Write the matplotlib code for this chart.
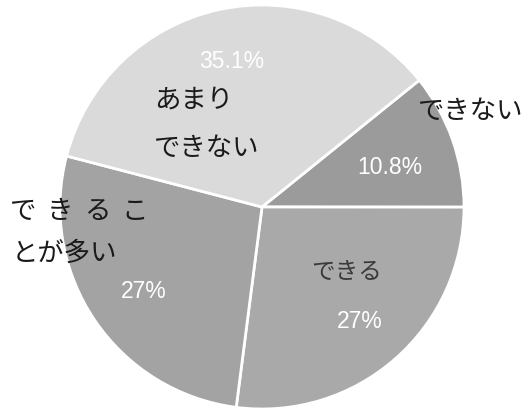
import matplotlib
matplotlib.use("Agg")
import matplotlib.pyplot as plt

plt.rcParams['font.family'] = ['Noto Sans CJK JP', 'DejaVu Sans']

# data (clockwise from the upper right)
categories = ["できない", "できる", "できることが多い", "あまりできない"]
values = [10.8, 27, 27, 35.1]
colors = ["#9b9b9b", "#a9a9a9", "#a3a3a3", "#dadada"]

W, H = 525, 413


def iy(y):
    # image row -> data y (y up)
    return H - y


fig = plt.figure(figsize=(W / 100, H / 100), dpi=100)
ax = fig.add_axes([0, 0, 1, 1])

ax.pie(values, colors=colors, startangle=values[0] * 3.6, counterclock=False,
       radius=202, center=(262, iy(207)),
       wedgeprops=dict(edgecolor="white", linewidth=2))
ax.set_xlim(0, W)
ax.set_ylim(0, H)
ax.set_aspect("equal")
ax.axis("off")

pct = ["%g%%" % v for v in values]
lab = dict(color="#1a1a1a", fontsize=19, ha="left", va="center")
num = dict(color="white", fontsize=16.5, ha="center", va="center",
           family=["Liberation Sans", "DejaVu Sans"])

# できない
ax.text(418, iy(111), categories[0], **lab)
ax.text(390, iy(167), pct[0], **num)

# できる
ax.text(311, iy(272), categories[1], color="#3a3a3a", fontsize=17,
        ha="left", va="center")
ax.text(360, iy(322), pct[1], **num)

# できることが多い (two lines, first spaced out)
for i, ch in enumerate("できるこ"):
    ax.text(10 + i * 37, iy(211), ch, **lab)
ax.text(12, iy(253), "とが多い", **lab)
ax.text(144, iy(292), pct[2], **num)

# あまりできない
ax.text(154, iy(100), "あまり", **lab)
ax.text(154, iy(148), "できない", **lab)
ax.text(232, iy(61), pct[3], **num)

fig.savefig("out.png", dpi=100)
